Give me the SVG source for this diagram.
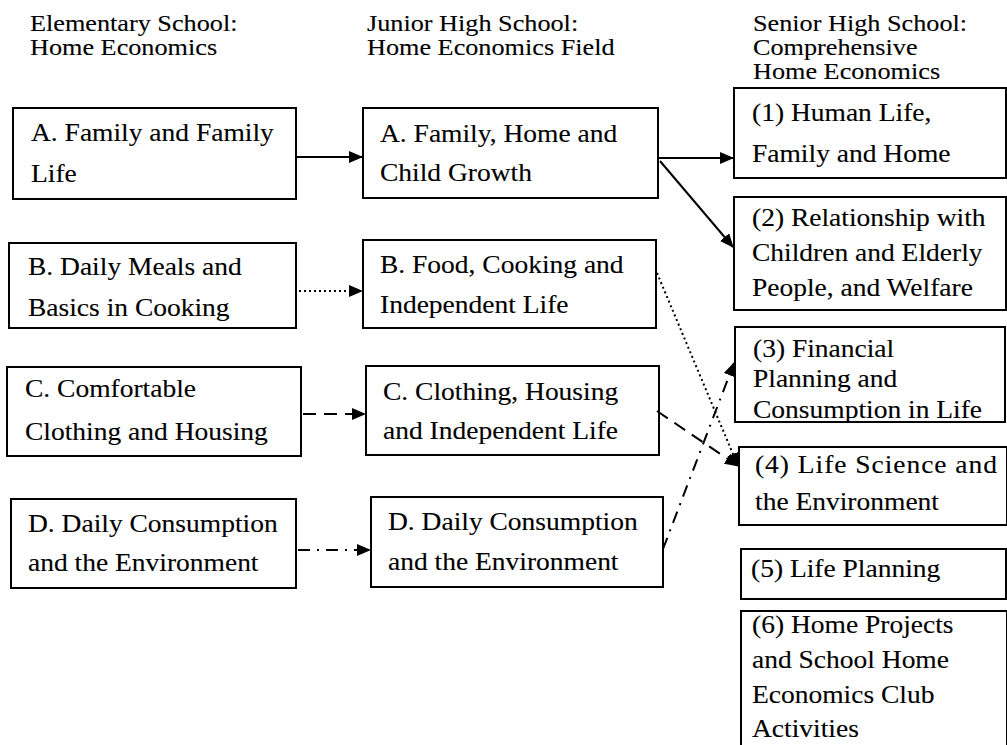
<svg xmlns="http://www.w3.org/2000/svg" width="1007" height="745" viewBox="0 0 1007 745">
  <style>
    .box { fill: #ffffff; stroke: #000000; stroke-width: 2; }
    .hd { font-family: "Liberation Serif", "Times New Roman", serif; font-size: 23px; fill: #000000; stroke: #000000; stroke-width: 0.12; }
    .tx { font-family: "Liberation Serif", "Times New Roman", serif; font-size: 25px; fill: #000000; stroke: #000000; stroke-width: 0.12; }
    .ln { fill: none; stroke: #000000; stroke-width: 2; marker-end: url(#head); }
    .dot { stroke-dasharray: 2 3; }
    .dash { stroke-dasharray: 13 8; }
    .dd { stroke-dasharray: 12 7 2 7; }
  </style>
  <defs>
    <marker id="head" viewBox="0 0 14 12" refX="13" refY="6" markerWidth="14" markerHeight="12" markerUnits="userSpaceOnUse" orient="auto">
      <path d="M0,0 L14,6 L0,12 z" fill="#000000"/>
    </marker>
    <clipPath id="clip3">
      <rect x="736" y="328" width="268" height="93"/>
    </clipPath>
  </defs>
  <rect width="1007" height="745" fill="#ffffff"/>

  <!-- column headings -->
  <g id="headings">
    <text class="hd" transform="translate(30,31) scale(1.14,1)"><tspan x="0" y="0">Elementary School:</tspan><tspan x="0" y="24">Home Economics</tspan></text>
    <text class="hd" transform="translate(367,31) scale(1.14,1)"><tspan x="0" y="0">Junior High School:</tspan><tspan x="0" y="24">Home Economics Field</tspan></text>
    <text class="hd" transform="translate(753,31) scale(1.14,1)"><tspan x="0" y="0">Senior High School:</tspan><tspan x="0" y="24">Comprehensive</tspan><tspan x="0" y="48">Home Economics</tspan></text>
  </g>

  <!-- elementary school column -->
  <g id="elem-a">
    <rect class="box" x="13" y="108" width="283" height="91"/>
    <text class="tx" transform="translate(31,141) scale(1.1,1)"><tspan x="0" y="0">A. Family and Family</tspan><tspan x="0" y="41">Life</tspan></text>
  </g>
  <g id="elem-b">
    <rect class="box" x="9" y="243" width="287" height="85"/>
    <text class="tx" transform="translate(28,275) scale(1.1,1)"><tspan x="0" y="0">B. Daily Meals and</tspan><tspan x="0" y="41">Basics in Cooking</tspan></text>
  </g>
  <g id="elem-c">
    <rect class="box" x="7" y="367" width="294" height="89"/>
    <text class="tx" transform="translate(25,397) scale(1.1,1)"><tspan x="0" y="0">C. Comfortable</tspan><tspan x="0" y="43">Clothing and Housing</tspan></text>
  </g>
  <g id="elem-d">
    <rect class="box" x="11" y="499" width="285" height="89"/>
    <text class="tx" transform="translate(28,532) scale(1.1,1)"><tspan x="0" y="0">D. Daily Consumption</tspan><tspan x="0" y="39">and the Environment</tspan></text>
  </g>

  <!-- junior high school column -->
  <g id="junior-a">
    <rect class="box" x="363" y="108" width="295" height="90"/>
    <text class="tx" transform="translate(380,142) scale(1.1,1)"><tspan x="0" y="0">A. Family, Home and</tspan><tspan x="0" y="39">Child Growth</tspan></text>
  </g>
  <g id="junior-b">
    <rect class="box" x="363" y="240" width="293" height="88"/>
    <text class="tx" transform="translate(380,273) scale(1.1,1)"><tspan x="0" y="0">B. Food, Cooking and</tspan><tspan x="0" y="40">Independent Life</tspan></text>
  </g>
  <g id="junior-c">
    <rect class="box" x="366" y="366" width="293" height="89"/>
    <text class="tx" transform="translate(383,400) scale(1.1,1)"><tspan x="0" y="0">C. Clothing, Housing</tspan><tspan x="0" y="39">and Independent Life</tspan></text>
  </g>
  <g id="junior-d">
    <rect class="box" x="371" y="497" width="292" height="90"/>
    <text class="tx" transform="translate(388,530) scale(1.1,1)"><tspan x="0" y="0">D. Daily Consumption</tspan><tspan x="0" y="40">and the Environment</tspan></text>
  </g>

  <!-- senior high school column -->
  <g id="senior-1">
    <rect class="box" x="734" y="88" width="272" height="90"/>
    <text class="tx" transform="translate(752,121) scale(1.1,1)"><tspan x="0" y="0">(1) Human Life,</tspan><tspan x="0" y="41">Family and Home</tspan></text>
  </g>
  <g id="senior-2">
    <rect class="box" x="734" y="197" width="272" height="113"/>
    <text class="tx" transform="translate(752,226) scale(1.1,1)"><tspan x="0" y="0">(2) Relationship with</tspan><tspan x="0" y="35">Children and Elderly</tspan><tspan x="0" y="70">People, and Welfare</tspan></text>
  </g>
  <g id="senior-3">
    <rect class="box" x="735" y="327" width="270" height="95"/>
    <g clip-path="url(#clip3)">
      <text class="tx" transform="translate(753,357) scale(1.1,1)"><tspan x="0" y="0">(3) Financial</tspan><tspan x="0" y="30">Planning and</tspan><tspan x="0" y="61">Consumption in Life</tspan></text>
    </g>
    <line x1="735" y1="422" x2="1005" y2="422" stroke="#000000" stroke-width="2"/>
  </g>
  <g id="senior-4">
    <rect class="box" x="739" y="447" width="268" height="78"/>
    <text class="tx" transform="translate(755,473) scale(1.1,1)"><tspan x="0" y="0" textLength="220" lengthAdjust="spacing">(4) Life Science and</tspan><tspan x="0" y="37">the Environment</tspan></text>
  </g>
  <g id="senior-5">
    <rect class="box" x="741" y="549" width="265" height="50"/>
    <text class="tx" transform="translate(751,577) scale(1.1,1)">(5) Life Planning</text>
  </g>
  <g id="senior-6">
    <rect class="box" x="741" y="611" width="266" height="140"/>
    <text class="tx" transform="translate(752,633) scale(1.1,1)"><tspan x="0" y="0">(6) Home Projects</tspan><tspan x="0" y="35">and School Home</tspan><tspan x="0" y="70">Economics Club</tspan><tspan x="0" y="104">Activities</tspan></text>
  </g>

  <!-- connectors -->
  <g id="connectors">
    <line class="ln" x1="297" y1="157" x2="362" y2="157"/>
    <line class="ln" x1="659" y1="158" x2="733" y2="158"/>
    <line class="ln" x1="660" y1="161" x2="733" y2="247"/>
    <line class="ln dot" x1="299" y1="291" x2="362" y2="291"/>
    <line class="ln dot" x1="657" y1="273" x2="738" y2="466"/>
    <line class="ln dash" x1="303" y1="414" x2="365" y2="414"/>
    <line class="ln dash" x1="657" y1="411" x2="738" y2="466"/>
    <line class="ln dd" x1="298" y1="550" x2="370" y2="550"/>
    <line class="ln dd" x1="663" y1="549" x2="734" y2="363"/>
  </g>
</svg>
